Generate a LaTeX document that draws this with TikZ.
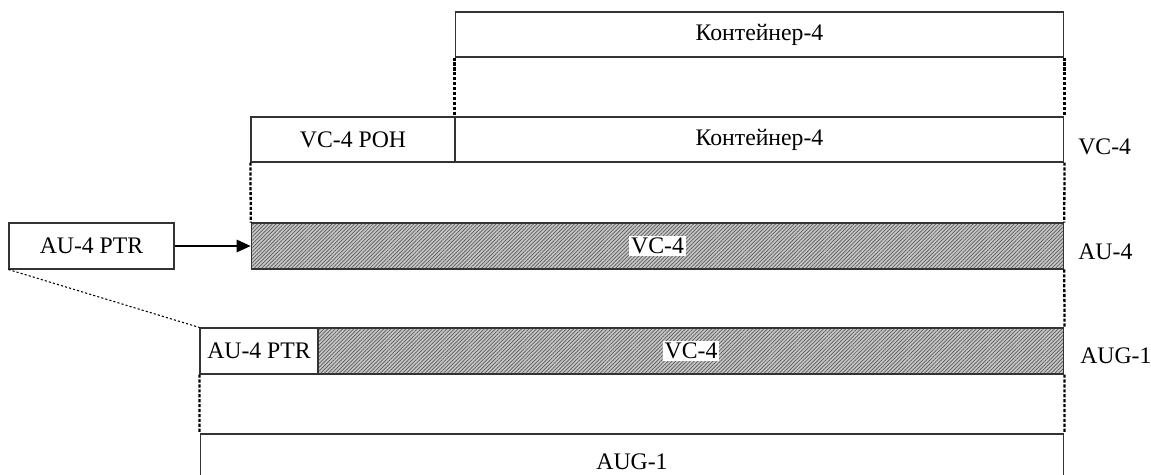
\documentclass[tikz,border=0pt]{standalone}
\usepackage{fontspec}
\setmainfont{Liberation Serif}
\usetikzlibrary{arrows.meta,patterns.meta}

\begin{document}
\begin{tikzpicture}[
    x=0.02cm, y=-0.02cm,
    txt/.style={font=\fontsize{13.5}{16}\selectfont},
    box/.style={draw=black!80, line width=0.6pt, minimum height=0.9cm, inner sep=0pt, txt},
    hatch/.style={box, preaction={fill=gray!45}, pattern={Lines[angle=45, distance=1.5pt, line width=0.4pt]}, pattern color=black!65},
    tag/.style={fill=white, inner sep=1pt, txt},
    side/.style={anchor=west, inner sep=0pt, txt},
    guide/.style={line width=1.3pt, dash pattern=on 1.8pt off 1pt},
    link/.style={line width=0.6pt, dash pattern=on 1.2pt off 1.2pt},
]
    \useasboundingbox (0,0) rectangle (1151,474);
    \clip (0,0) rectangle (1151,474);

    % Container
    \node[box, minimum width=12.18cm] (c4) at (759.5, 34.5) {Контейнер-4};

    % VC-4 = POH + container
    \node[box, minimum width=4.08cm] (poh) at (353, 139.5) {VC-4 POH};
    \node[box, minimum width=12.18cm] (c4b) at (759.5, 139.5) {Контейнер-4};
    \node[side] (lvc) at (1078, 147) {VC-4};

    % AU-4
    \node[box, minimum width=3.3cm, minimum height=0.92cm] (ptr) at (91.5, 246) {AU-4 PTR};
    \node[hatch, minimum width=16.26cm, minimum height=0.92cm] (au) at (657.5, 246) {};
    \node[tag] (auvc) at (au) {VC-4};
    \node[side] (lau) at (1078, 252) {AU-4};

    % AUG-1
    \node[box, minimum width=2.36cm, minimum height=0.92cm] (gptr) at (259, 351) {AU-4 PTR};
    \node[hatch, minimum width=14.92cm, minimum height=0.92cm] (gvc) at (691, 351) {};
    \node[tag] (gvct) at (gvc) {VC-4};
    \node[side] (laug) at (1080, 356) {AUG-1};
    \node[box, minimum width=17.28cm, minimum height=1.12cm] (aug) at (632, 462) {AUG-1};

    % Guides
    \draw[guide] (c4.south west) -- (c4b.north west);
    \draw[guide] (c4.south east) -- (c4b.north east);
    \draw[guide] (poh.south west) -- (au.north west);
    \draw[guide] (c4b.south east) -- (au.north east);
    \draw[guide] (au.south east) -- (gvc.north east);
    \draw[guide] (gptr.south west) -- (aug.north west);
    \draw[guide] (gvc.south east) -- (aug.north east);

    % Pointer
    \draw[-{Triangle[length=8pt, width=7pt]}, line width=1.2pt] (ptr.east) -- (au.west);
    \draw[link] (ptr.south west) -- (gptr.north west);
\end{tikzpicture}
\end{document}
